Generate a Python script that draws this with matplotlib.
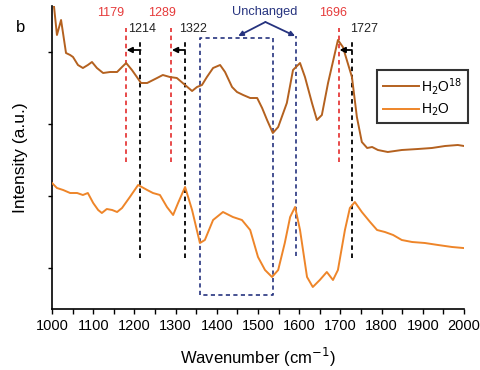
import matplotlib
matplotlib.use("Agg")
from matplotlib import pyplot as plt

plt.rcParams['font.family'] = ['Liberation Sans', 'DejaVu Sans']

# spectra (wavenumber, intensity in arbitrary units)
wn_18 = [1000, 1012, 1022, 1034, 1044, 1051, 1063, 1075, 1087, 1097, 1109, 1124, 1141,
         1158, 1170, 1180, 1194, 1206, 1216, 1231, 1255, 1269, 1286, 1303, 1323, 1340,
         1352, 1364, 1376, 1391, 1408, 1420, 1437, 1449, 1464, 1481, 1498, 1510, 1522,
         1536, 1549, 1570, 1585, 1602, 1614, 1631, 1643, 1655, 1670, 1694, 1706, 1728,
         1740, 1752, 1765, 1777, 1791, 1815, 1849, 1888, 1922, 1954, 1985, 2000]
int_18 = [322, 274, 289, 256, 254, 252, 244, 241, 244, 247, 241, 236, 237,
          237, 242, 246, 239, 232, 226, 226, 231, 234, 232, 231, 224, 218,
          222, 224, 232, 241, 244, 237, 222, 217, 214, 211, 211, 201, 189,
          176, 182, 206, 239, 246, 232, 206, 189, 194, 226, 269, 262, 232,
          192, 167, 161, 162, 159, 157, 159, 160, 161, 163, 164, 163]

wn_16 = [1000, 1012, 1027, 1044, 1061, 1075, 1087, 1100, 1112, 1121, 1133, 1146, 1158,
         1170, 1189, 1209, 1231, 1245, 1262, 1279, 1294, 1306, 1323, 1340, 1359, 1371,
         1391, 1415, 1439, 1461, 1481, 1500, 1517, 1534, 1549, 1565, 1578, 1590, 1602,
         1619, 1633, 1650, 1667, 1682, 1694, 1711, 1723, 1735, 1752, 1772, 1789, 1808,
         1828, 1849, 1874, 1905, 1937, 1971, 1998]
int_16 = [126, 121, 119, 116, 116, 114, 116, 106, 99, 96, 100, 99, 97,
          101, 112, 124, 119, 116, 114, 102, 94, 106, 122, 99, 66, 69,
          89, 97, 92, 89, 79, 52, 39, 32, 39, 66, 92, 102, 79,
          32, 22, 29, 37, 29, 39, 79, 101, 107, 97, 87, 79, 77,
          74, 69, 67, 66, 64, 62, 61]

shift_18 = [1179, 1289, 1696]   # red, H2O18 peaks
shift_16 = [1214, 1322, 1727]   # black, H2O peaks
box_x = [1359, 1536]
unchanged_x = 1592

brown = '#B4611F'
orange = '#EE8529'
red = '#E63B3B'
navy = '#26337F'

fig = plt.figure(figsize=(4.81, 3.70), dpi=100)
ax = fig.add_axes([52/481, 61/370, 412/481, 303/370])

ax.plot(wn_18, int_18, color=brown, lw=1.4, label='H$_2$O$^{18}$', zorder=3)
ax.plot(wn_16, int_16, color=orange, lw=1.4, label='H$_2$O', zorder=3)

dash = (0, (2.5, 2))
red_dx = [-36, -21, -14]
black_dx = [4, 20, 30]
for r, k, dr, dk in zip(shift_18, shift_16, red_dx, black_dx):
    ax.plot([r, r], [147, 281], color=red, lw=1.3, ls=dash)
    ax.plot([k, k], [51, 270], color='k', lw=1.3, ls=dash)
    ax.annotate('', xy=(r + 2, 259), xytext=(k + 1, 259),
                arrowprops=dict(arrowstyle='-|>', color='k', lw=1.3,
                                mutation_scale=8, shrinkA=0, shrinkB=0))
    ax.text(r + dr, 296, str(r), color=red, fontsize=9, ha='center', va='center')
    ax.text(k + dk, 280, str(k), color='#222222', fontsize=9, ha='center', va='center')

# unchanged region
ax.plot([box_x[0], box_x[0], box_x[1], box_x[1], box_x[0]],
        [14, 271, 271, 14, 14], color=navy, lw=1.2, ls=dash)
ax.plot([unchanged_x, unchanged_x], [53, 273], color=navy, lw=1.2, ls=dash)
ax.text(1517, 297, 'Unchanged', color=navy, fontsize=9.2, ha='center', va='center')
for tx in [1452, 1590]:
    ax.annotate('', xy=(tx, 273), xytext=(1518, 287),
                arrowprops=dict(arrowstyle='-|>', color=navy, lw=1.3,
                                mutation_scale=7, shrinkA=0, shrinkB=0))

ax.set_xlim(1000, 2000)
ax.set_ylim(0, 303)
ax.set_xticks(range(1000, 2001, 100))
ax.set_xticks(range(1050, 2000, 100), minor=True)
ax.set_yticks([41, 113, 185, 257])
ax.set_yticklabels([])
ax.tick_params(axis='x', which='both', direction='out', length=3.5, width=1,
               labelsize=10.5, pad=4)
ax.tick_params(axis='y', direction='out', length=3, width=1)
ax.spines['top'].set_visible(False)
ax.spines['right'].set_visible(False)
ax.spines['left'].set_linewidth(1.2)
ax.spines['bottom'].set_linewidth(1.2)

ax.set_xlabel('Wavenumber (cm$^{-1}$)', fontsize=12, labelpad=9)
ax.set_ylabel('Intensity (a.u.)', fontsize=12.5, labelpad=11)

leg = ax.legend(loc='upper left', bbox_to_anchor=(377/481, 1 - 70/370),
                bbox_transform=fig.transFigure, fontsize=10, frameon=True,
                fancybox=False, handlelength=2.6, borderpad=0.4, labelspacing=0.35,
                handletextpad=0.2, borderaxespad=0)
leg.get_frame().set_edgecolor('k')
leg.get_frame().set_linewidth(1.5)

fig.text(21/481, 1 - 28/370, 'b', fontsize=12, ha='center', va='center')

fig.savefig('out.png', dpi=100)
